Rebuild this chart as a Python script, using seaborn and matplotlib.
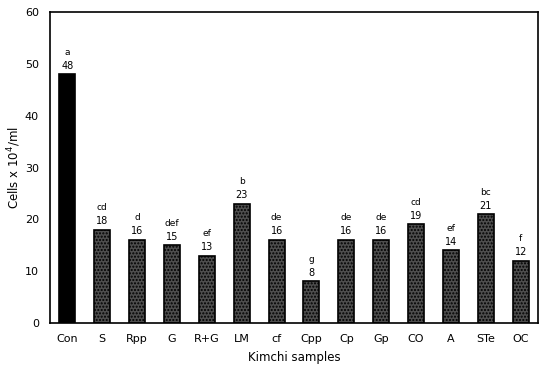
import pandas as pd
import seaborn as sns
import matplotlib.pyplot as plt

# Kimchi samples vs cell counts
samples = ['Con', 'S', 'Rpp', 'G', 'R+G', 'LM', 'cf', 'Cpp', 'Cp', 'Gp', 'CO', 'A', 'STe', 'OC']
cells = [48, 18, 16, 15, 13, 23, 16, 8, 16, 16, 19, 14, 21, 12]
letters = ['a', 'cd', 'd', 'def', 'ef', 'b', 'de', 'g', 'de', 'de', 'cd', 'ef', 'bc', 'f']

data = pd.DataFrame({'sample': samples, 'cells': cells})

sns.set_style('white')
plt.rcParams['font.family'] = ['DejaVu Sans']
plt.rcParams['text.color'] = 'black'
plt.rcParams['axes.labelcolor'] = 'black'
plt.rcParams['xtick.color'] = 'black'
plt.rcParams['ytick.color'] = 'black'

fig = plt.figure(figsize=(5.43, 3.69), dpi=100)
ax = fig.add_axes([0.092, 0.125, 0.899, 0.842])

colors = ['black'] + ['#4e4e4e'] * (len(samples) - 1)
sns.barplot(x='sample', y='cells', data=data, hue='sample', palette=colors,
            legend=False, width=0.46, edgecolor='black', linewidth=1.2, ax=ax)

for i, p in enumerate(ax.patches):
    if i > 0:
        p.set_hatch('.....')
    h = p.get_height()
    xc = p.get_x() + p.get_width() / 2
    ax.text(xc, h + 0.7, str(int(h)), ha='center', va='bottom', fontsize=7)
    ax.text(xc, h + 3.4, letters[i], ha='center', va='bottom', fontsize=6.5)

ax.set_ylim(0, 60)
ax.set_yticks([0, 10, 20, 30, 40, 50, 60])
ax.set_xlim(-0.5, len(samples) - 0.5)
ax.tick_params(axis='both', length=0, labelsize=8, pad=8)
ax.set_xlabel('Kimchi samples', fontsize=8.5, labelpad=5)
ax.set_ylabel('Cells x 10$^4$/ml', fontsize=8.5, labelpad=1)
for s in ax.spines.values():
    s.set_visible(True)
    s.set_color('black')
    s.set_linewidth(1.2)

plt.savefig('out.png', dpi=100)
